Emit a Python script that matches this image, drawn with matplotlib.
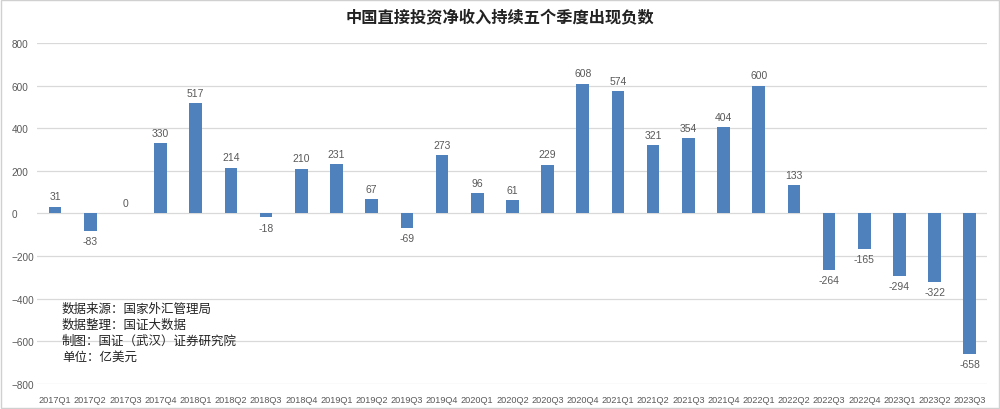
import matplotlib.pyplot as plt
import numpy as np

plt.rcParams['font.family'] = ['Noto Sans CJK SC', 'DejaVu Sans']

quarters = ['2017Q1', '2017Q2', '2017Q3', '2017Q4', '2018Q1', '2018Q2', '2018Q3', '2018Q4',
            '2019Q1', '2019Q2', '2019Q3', '2019Q4', '2020Q1', '2020Q2', '2020Q3', '2020Q4',
            '2021Q1', '2021Q2', '2021Q3', '2021Q4', '2022Q1', '2022Q2', '2022Q3', '2022Q4',
            '2023Q1', '2023Q2', '2023Q3']
values = [31, -83, 0, 330, 517, 214, -18, 210, 231, 67, -69, 273, 96, 61, 229, 608,
          574, 321, 354, 404, 600, 133, -264, -165, -294, -322, -658]
yticks = [-800, -600, -400, -200, 0, 200, 400, 600, 800]
title = '中国直接投资净收入持续五个季度出现负数'
notes = ['数据来源：国家外汇管理局', '数据整理：国证大数据', '制图：国证（武汉）证券研究院', '单位：亿美元']

bar_color = '#4F81BD'
text_color = '#595959'
num_font = 'Liberation Sans'

fig = plt.figure(figsize=(10, 4.1), dpi=100)
ax = fig.add_axes([0.0374, 0.061, 0.95, 0.832])  # left, bottom, width, height

x = np.arange(len(quarters))
ax.bar(x, values, width=0.36, color=bar_color, zorder=3)

# value labels
for xi, v in zip(x, values):
    if v >= 0:
        ax.text(xi, v + 25, str(v), ha='center', va='bottom', fontsize=7.5,
                color=text_color, family=num_font)
    else:
        ax.text(xi, v - 25, str(v), ha='center', va='top', fontsize=7.5,
                color=text_color, family=num_font)

ax.set_xlim(-0.5, len(quarters) - 0.5)
ax.set_ylim(-800, 800)
ax.set_yticks(yticks)
ax.set_xticks(x)
ax.set_xticklabels(quarters)
ax.grid(axis='y', color='#D9D9D9', linewidth=0.9, zorder=0)
for s in ax.spines.values():
    s.set_visible(False)
ax.tick_params(axis='y', length=0, labelsize=7.2, labelcolor=text_color, pad=0)
ax.tick_params(axis='x', length=0, labelsize=6.6, labelcolor=text_color, pad=8)
for lab in ax.get_xticklabels() + ax.get_yticklabels():
    lab.set_family(num_font)
for lab in ax.get_yticklabels():
    lab.set_horizontalalignment('left')
    lab.set_x(-0.0374 / 0.95 + 0.012)

fig.text(0.5, 0.955, title, ha='center', va='center', fontsize=11.7, fontweight='bold', color='#222222')

for i, line in enumerate(notes):
    fig.text(0.062, 1 - (309 + i * 16) / 410, line, ha='left', va='center', fontsize=9, color='#222222')

# light frame around the picture
fig.patches.append(plt.Rectangle((0.001, 0.002), 0.998, 0.996, transform=fig.transFigure,
                                 fill=False, edgecolor='#D0D0D0', linewidth=1))

plt.savefig('out.png', dpi=100)
